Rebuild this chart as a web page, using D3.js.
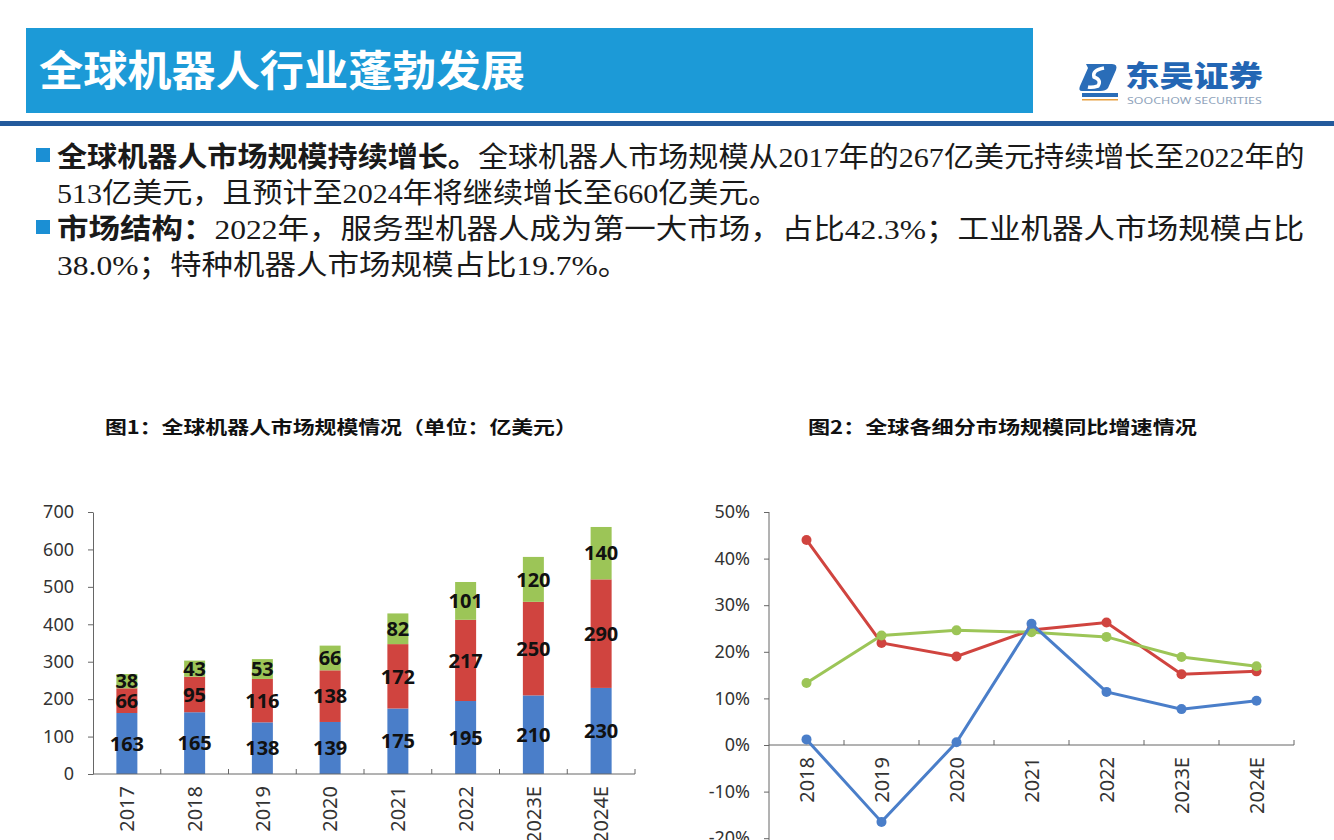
<!DOCTYPE html>
<html>
<head>
<meta charset="utf-8">
<script src="https://cdn.jsdelivr.net/npm/d3@7"></script>
<style>
  body { margin: 0; background: #fff; }
  svg { display: block; }
</style>
</head>
<body>
<svg id="page" width="1334" height="840"></svg>
<script>
// ---- data ----
var years1 = ["2017", "2018", "2019", "2020", "2021", "2022", "2023E", "2024E"];
var industrial = [163, 165, 138, 139, 175, 195, 210, 230];
var service = [66, 95, 116, 138, 172, 217, 250, 290];
var special = [38, 43, 53, 66, 82, 101, 120, 140];
var yTicks1 = [0, 100, 200, 300, 400, 500, 600, 700];

var years2 = ["2018", "2019", "2020", "2021", "2022", "2023E", "2024E"];
var industrialGrowth = [1.2, -16.5, 0.6, 26.0, 11.4, 7.7, 9.5];
var serviceGrowth = [44.0, 21.9, 19.0, 24.7, 26.3, 15.2, 15.8];
var specialGrowth = [13.3, 23.5, 24.6, 24.2, 23.2, 18.9, 16.9];
var yTicks2 = [-20, -10, 0, 10, 20, 30, 40, 50];

var pageTitle = "全球机器人行业蓬勃发展";
var chart1Title = "图1：全球机器人市场规模情况（单位：亿美元）";
var chart2Title = "图2：全球各细分市场规模同比增速情况";

var colors = { industrial: "#4a7ec9", service: "#d0443f", special: "#9cc557" };
var cjk = "'Noto Sans CJK SC', sans-serif";
var body = "'Liberation Serif', 'Noto Sans CJK SC', serif";
var num = "'Noto Sans', sans-serif";

var svg = d3.select("#page");

// stretch a text horizontally so it spans a given width
function fit(sel, x, width) {
    var w = sel.node().getComputedTextLength();
    sel.attr("x", 0).attr("transform", "translate(" + x + ",0) scale(" + (width / w) + ",1)");
    return width / w;
}

// ---- header ----
svg.append("rect").attr("x", 26).attr("y", 28).attr("width", 1007).attr("height", 85).attr("fill", "#1c9ad7");
var t = svg.append("text").attr("y", 86).attr("fill", "#fff")
    .style("font", "700 42px " + cjk).text(pageTitle);
fit(t, 39, 486);

svg.append("rect").attr("x", 0).attr("y", 121).attr("width", 1334).attr("height", 5).attr("fill", "#235a9c");

// logo
var logo = svg.append("g");
logo.append("path")
    .attr("d", "M1086,64 L1112,64 Q1118,64 1116,70 L1108,88 Q1106,91 1100,91 L1082,91 Q1078,91 1080,86 L1088,68 Z")
    .attr("fill", "#2a6db8");
logo.append("path")
    .attr("d", "M1104,68 Q1092,70 1094,77 Q1102,80 1098,86 Q1092,88 1088,87")
    .attr("fill", "none").attr("stroke", "#fff").attr("stroke-width", 3.5);
logo.append("rect").attr("x", 1082).attr("y", 93).attr("width", 36).attr("height", 4).attr("fill", "#2a6db8");
logo.append("rect").attr("x", 1082).attr("y", 99).attr("width", 36).attr("height", 1.5).attr("fill", "#e8a040");
var lt = logo.append("text").attr("y", 87).attr("fill", "#2366b4")
    .style("font", "900 29px " + cjk).text("东吴证券");
fit(lt, 1125, 138);
var ls = logo.append("text").attr("y", 104).attr("fill", "#8fa3bb")
    .style("font", "9px " + num).text("SOOCHOW SECURITIES");
fit(ls, 1127, 135);

// ---- bullet text ----
var lines = [
    { y: 167, bold: "全球机器人市场规模持续增长。", rest: "全球机器人市场规模从2017年的267亿美元持续增长至2022年的" },
    { y: 203, bold: "", rest: "513亿美元，且预计至2024年将继续增长至660亿美元。" },
    { y: 239, bold: "市场结构：", rest: "2022年，服务型机器人成为第一大市场，占比42.3%；工业机器人市场规模占比" },
    { y: 275, bold: "", rest: "38.0%；特种机器人市场规模占比19.7%。" }
];
var textNodes = lines.map(function(l) {
    if (l.bold) {
        svg.append("rect").attr("x", 36).attr("y", l.y - 19).attr("width", 14).attr("height", 14).attr("fill", "#1b8fd4");
    }
    var tx = svg.append("text").attr("y", l.y).attr("fill", "#1a1a1a").style("font", "28px " + body);
    tx.append("tspan").style("font-weight", 700).style("font-family", cjk).text(l.bold);
    tx.append("tspan").text(l.rest);
    return tx;
});
// the full-width lines span the text column; the wrapped ones reuse that stretch
var k1 = fit(textNodes[0], 57, 1248);
var k3 = fit(textNodes[2], 57, 1248);
textNodes[1].attr("x", 0).attr("transform", "translate(57,0) scale(" + k1 + ",1)");
textNodes[3].attr("x", 0).attr("transform", "translate(57,0) scale(" + k3 + ",1)");

// ---- chart titles ----
var c1t = svg.append("text").attr("y", 434).attr("fill", "#111").style("font", "700 18px " + cjk).text(chart1Title);
fit(c1t, 105, 472);
var c2t = svg.append("text").attr("y", 434).attr("fill", "#111").style("font", "700 18px " + cjk).text(chart2Title);
fit(c2t, 808, 389);

// ---- chart 1: stacked bars ----
var table1 = years1.map(function(y, i) {
    return { year: y, industrial: industrial[i], service: service[i], special: special[i] };
});
var keys = ["industrial", "service", "special"];
var stack = d3.stack().keys(keys)(table1);

var x1 = d3.scaleBand().domain(years1).range([93, 635]);
var y1 = d3.scaleLinear().domain([0, 700]).range([774, 512]);
var barW = 21;

var g1 = svg.append("g");
g1.selectAll("g.layer")
    .data(stack)
    .enter()
    .append("g")
    .attr("class", "layer")
    .attr("fill", function(d) { return colors[d.key]; })
    .selectAll("rect")
    .data(function(d) { return d; })
    .enter()
    .append("rect")
    .attr("x", function(d) { return x1(d.data.year) + (x1.bandwidth() - barW) / 2; })
    .attr("y", function(d) { return y1(d[1]); })
    .attr("width", barW)
    .attr("height", function(d) { return y1(d[0]) - y1(d[1]); });

stack.forEach(function(layer) {
    g1.selectAll(null)
        .data(layer)
        .enter()
        .append("text")
        .attr("x", function(d) { return x1(d.data.year) + x1.bandwidth() / 2; })
        .attr("y", function(d) { return (y1(d[0]) + y1(d[1])) / 2; })
        .attr("dy", "0.36em")
        .attr("text-anchor", "middle")
        .attr("fill", "#111")
        .style("font", "700 20px " + num)
        .text(function(d) { return d[1] - d[0]; });
});

var ax1 = g1.append("g")
    .attr("transform", "translate(93,0)")
    .call(d3.axisLeft(y1).tickValues(yTicks1).tickSize(5).tickSizeOuter(0).tickPadding(14));
ax1.selectAll("text").style("font", "18px " + num).attr("fill", "#333");
ax1.selectAll("line, path").attr("stroke", "#666");

g1.append("line").attr("x1", 93).attr("x2", 635).attr("y1", 774).attr("y2", 774).attr("stroke", "#666");
g1.selectAll("line.xt")
    .data(years1)
    .enter()
    .append("line")
    .attr("class", "xt")
    .attr("x1", function(d) { return x1(d) + x1.bandwidth(); })
    .attr("x2", function(d) { return x1(d) + x1.bandwidth(); })
    .attr("y1", 774).attr("y2", 769)
    .attr("stroke", "#666");
g1.selectAll("text.xl")
    .data(years1)
    .enter()
    .append("text")
    .attr("class", "xl")
    .attr("transform", function(d) { return "translate(" + (x1(d) + x1.bandwidth() / 2) + ",786) rotate(-90)"; })
    .attr("text-anchor", "end")
    .attr("dy", "0.36em")
    .attr("fill", "#333")
    .style("font", "20px " + num)
    .text(function(d) { return d; });

// ---- chart 2: growth lines ----
var x2 = d3.scaleBand().domain(years2).range([769, 1294]);
var y2 = d3.scaleLinear().domain([-20, 50]).range([838.2, 512]);
var g2 = svg.append("g");

var ax2 = g2.append("g")
    .attr("transform", "translate(769,0)")
    .call(d3.axisLeft(y2).tickValues(yTicks2).tickSize(5).tickSizeOuter(0).tickPadding(14)
        .tickFormat(function(d) { return d + "%"; }));
ax2.selectAll("text").style("font", "18px " + num).attr("fill", "#333");
ax2.selectAll("line, path").attr("stroke", "#666");
ax2.select("path.domain").attr("d", "M0,512V845");

g2.append("line").attr("x1", 769).attr("x2", 1294).attr("y1", y2(0)).attr("y2", y2(0)).attr("stroke", "#666");
g2.selectAll("line.xt")
    .data(years2)
    .enter()
    .append("line")
    .attr("class", "xt")
    .attr("x1", function(d) { return x2(d) + x2.bandwidth(); })
    .attr("x2", function(d) { return x2(d) + x2.bandwidth(); })
    .attr("y1", y2(0)).attr("y2", y2(0) - 5)
    .attr("stroke", "#666");
g2.selectAll("text.xl")
    .data(years2)
    .enter()
    .append("text")
    .attr("class", "xl")
    .attr("transform", function(d) { return "translate(" + (x2(d) + x2.bandwidth() / 2) + "," + (y2(0) + 12) + ") rotate(-90)"; })
    .attr("text-anchor", "end")
    .attr("dy", "0.36em")
    .attr("fill", "#333")
    .style("font", "20px " + num)
    .text(function(d) { return d; });

var series2 = [
    { key: "service", values: serviceGrowth },
    { key: "special", values: specialGrowth },
    { key: "industrial", values: industrialGrowth }
];
var line = d3.line()
    .x(function(d, i) { return x2(years2[i]) + x2.bandwidth() / 2; })
    .y(function(d) { return y2(d); });

series2.forEach(function(s) {
    g2.append("path")
        .datum(s.values)
        .attr("d", line)
        .attr("fill", "none")
        .attr("stroke", colors[s.key])
        .attr("stroke-width", 3);
    g2.selectAll(null)
        .data(s.values)
        .enter()
        .append("circle")
        .attr("cx", function(d, i) { return x2(years2[i]) + x2.bandwidth() / 2; })
        .attr("cy", function(d) { return y2(d); })
        .attr("r", 5)
        .attr("fill", colors[s.key]);
});
</script>
</body>
</html>
